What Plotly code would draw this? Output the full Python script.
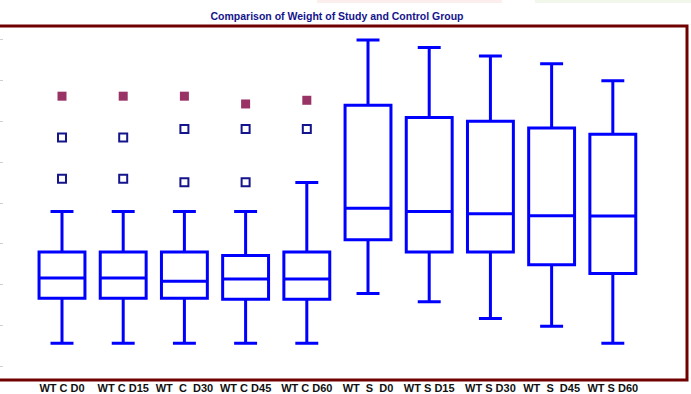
import plotly.graph_objects as go

# Weight (kg) summary per group and day
groups = ["WT C D0", "WT C D15", "WT\u00a0 C\u00a0 D30", "WT C D45", "WT C D60",
          "WT\u00a0 S\u00a0 D0", "WT S D15", "WT S D30", "WT\u00a0 S\u00a0 D45", "WT S D60"]
lower_whisker = [35.7, 35.7, 35.7, 35.7, 35.7, 47.9, 45.9, 41.8, 39.9, 35.7]
q1 = [46.7, 46.7, 46.7, 46.5, 46.5, 61.0, 58.0, 58.0, 54.9, 52.8]
median = [51.7, 51.7, 50.9, 51.4, 51.4, 68.7, 67.9, 67.4, 66.9, 66.8]
q3 = [58.0, 58.0, 58.0, 57.2, 58.0, 93.9, 90.9, 90.0, 88.3, 86.8]
upper_whisker = [67.9, 67.9, 67.9, 67.9, 75.0, 109.8, 108.0, 105.9, 104.0, 99.9]

# Outliers (group index, value) and extreme values
outlier_group = [0, 0, 1, 1, 2, 2, 3, 3, 4]
outlier_value = [86.0, 75.9, 86.0, 75.9, 88.1, 75.1, 88.1, 75.1, 88.1]
extreme_group = [0, 1, 2, 3, 4]
extreme_value = [96.1, 96.1, 96.1, 94.2, 95.1]

positions = list(range(len(groups)))

fig = go.Figure()
fig.add_trace(go.Box(
    x=positions, q1=q1, median=median, q3=q3,
    lowerfence=lower_whisker, upperfence=upper_whisker,
    width=0.75, whiskerwidth=0.5, boxpoints=False,
    line=dict(color="#0000ff", width=3), fillcolor="rgba(255,255,255,0)",
    hoverinfo="skip", showlegend=False,
))
fig.add_trace(go.Scatter(
    x=outlier_group, y=outlier_value, mode="markers",
    marker=dict(symbol="square-open", size=8, color="#14148c", line=dict(width=2, color="#14148c")),
    showlegend=False, hoverinfo="skip",
))
fig.add_trace(go.Scatter(
    x=extreme_group, y=extreme_value, mode="markers",
    marker=dict(symbol="square", size=9, color="#993366"),
    showlegend=False, hoverinfo="skip",
))

W, H = 691, 394
fig.update_layout(
    width=W, height=H,
    margin=dict(l=0, r=4, t=26, b=14, autoexpand=False),
    paper_bgcolor="white", plot_bgcolor="white",
    title=dict(
        text="<b>Comparison of Weight of Study and Control Group</b>",
        x=337 / W, xanchor="center", y=1 - 16 / H, yanchor="middle",
        font=dict(family="Liberation Sans Narrow, Arial Narrow, Arial", size=10.5, color="#14148c"),
    ),
    xaxis=dict(
        range=[-1.013, 10.212], tickvals=positions,
        ticktext=["<b>%s</b>" % g for g in groups],
        showgrid=False, zeroline=False, showline=False, ticks="",
        tickfont=dict(family="Liberation Sans Narrow, Arial Narrow, Arial", size=11, color="#111111"),
        automargin=False,
    ),
    yaxis=dict(
        range=[26.75, 113.25], tickvals=list(range(30, 111, 10)),
        showticklabels=False, showgrid=False, zeroline=False, showline=False,
        ticks="inside", ticklen=3, tickcolor="#d0d0d0", tickwidth=1,
        automargin=False,
    ),
    shapes=[
        # faint coloured strips along the top edge of the page
        dict(type="rect", xref="paper", yref="paper", x0=317 / 687, x1=502 / 687,
             y0=1 + 23 / 354, y1=1 + 26 / 354, line=dict(width=0), fillcolor="#fdeeee", layer="below"),
        dict(type="rect", xref="paper", yref="paper", x0=535 / 687, x1=691 / 687,
             y0=1 + 23 / 354, y1=1 + 26 / 354, line=dict(width=0), fillcolor="#f1f7ea", layer="below"),
        # chart frame
        dict(type="rect", xref="paper", yref="paper", x0=-0.02, x1=1.0, y0=0, y1=1,
             line=dict(color="#700000", width=3), fillcolor="rgba(0,0,0,0)", layer="above"),
    ],
)

fig.write_html("out.html")
